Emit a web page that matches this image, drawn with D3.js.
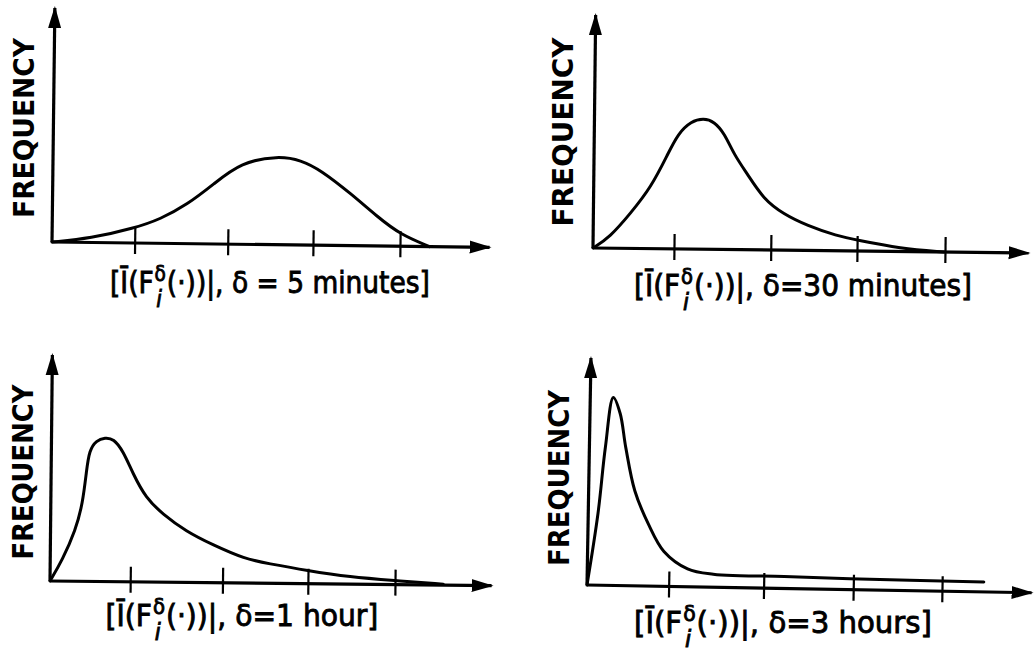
<!DOCTYPE html>
<html>
<head>
<meta charset="utf-8">
<script src="https://cdn.jsdelivr.net/npm/d3@7"></script>
<style>
  html, body { margin: 0; padding: 0; background: #fff; }
  svg { display: block; }
  text { font-family: "DejaVu Sans", "Liberation Sans", sans-serif; fill: #000; }
</style>
</head>
<body>
<div id="chart"></div>
<script>
// page size
var width = 1034, height = 656;

// frequency curves, [x, frequency] (x in tick units, freq 0..100 = arrow tip)
var curve5min = [[0,0],[0.44,1.7],[0.95,6.4],[1.24,10.3],[1.55,16.7],[1.85,25.6],[2.16,35.0],
  [2.59,38.0],[2.85,36.3],[3.08,32.1],[3.43,22.2],[3.74,12.4],[4.0,5.1],[4.34,0]];
var curve30min = [[0,0],[0.19,4.7],[0.42,15.0],[0.65,26.2],[0.84,40.8],[0.95,49.4],[1.10,54.9],
  [1.24,56.2],[1.36,54.9],[1.48,49.8],[1.59,40.8],[1.75,32.2],[1.93,21.9],[2.16,15.5],[2.43,10.7],
  [2.77,6.4],[3.0,4.7],[3.49,1.3],[3.99,0]];
var curve1hour = [[0,0],[0.14,9.3],[0.29,22.6],[0.37,34.5],[0.41,49.1],[0.44,58.0],[0.52,62.4],
  [0.62,63.7],[0.72,63.3],[0.83,58.0],[0.95,47.8],[1.10,37.2],[1.30,30.1],[1.57,22.6],[1.88,16.8],
  [2.26,10.6],[2.52,8.8],[2.98,5.8],[3.48,3.1],[3.98,1.8],[4.56,0.4]];
var curve3hours = [[0,0],[0.11,31.7],[0.18,60.8],[0.26,82.8],[0.34,75.8],[0.41,60.8],[0.52,41.9],
  [0.68,27.3],[0.86,15.4],[1.13,7.9],[1.42,5.7],[1.72,5.3],[2.22,5.3],[2.96,4.8],[4.47,4.4]];

// tick marks on each x axis (no numbers printed)
var ticks5min = [0.95, 2.02, 3.0, 4.0];
var ticks30min = [0.92, 2.02, 3.0, 4.0];
var ticks1hour = [0.93, 2.0, 2.99, 4.0];
var ticks3hours = [0.92, 1.99, 3.0, 4.0];

// label texts
var yTitle = "FREQUENCY";
var deltaTexts = ["δ = 5 minutes]", "δ=30 minutes]", "δ=1 hour]", "δ=3 hours]"];

var curves = [curve5min, curve30min, curve1hour, curve3hours];
var tickSets = [ticks5min, ticks30min, ticks1hour, ticks3hours];

// where each panel sits on the page
var layout = [
  {ox:52,  oy:242, unit:87,    h:234, xEnd:5.03, tilt:0.7,  fx:24,  fy:128, fl:180, lx:270, ly:293, lw:320, smooth:"basis"},
  {ox:593, oy:248, unit:88,    h:233, xEnd:4.95, tilt:0.65, fx:563, fy:132, fl:189, lx:803, ly:296, lw:338, smooth:"basis"},
  {ox:50,  oy:581, unit:86.25, h:226, xEnd:5.12, tilt:0.6,  fx:23,  fy:472, fl:175, lx:242, ly:626, lw:273, smooth:"basis"},
  {ox:587, oy:585, unit:88.75, h:227, xEnd:5.01, tilt:1.0,  fx:559, fy:478, fl:176, lx:783, ly:633, lw:298, smooth:"catmull"}
];

var svg = d3.select("#chart").append("svg")
    .attr("width", width)
    .attr("height", height);

svg.append("rect").attr("width", width).attr("height", height).attr("fill", "#fff");

// filled arrow head
svg.append("defs").append("marker")
    .attr("id", "arrow")
    .attr("markerUnits", "userSpaceOnUse")
    .attr("viewBox", "0 -7 22 14")
    .attr("refX", 20).attr("refY", 0)
    .attr("markerWidth", 22).attr("markerHeight", 14)
    .attr("orient", "auto")
  .append("path")
    .attr("d", "M0,-6.5L22,0L0,6.5Z")
    .attr("fill", "#000");

layout.forEach(function(p, k){
  var x = d3.scaleLinear().domain([0, 4]).range([0, 4 * p.unit]);
  var y = d3.scaleLinear().domain([0, 100]).range([0, -p.h]);

  var g = svg.append("g")
      .attr("transform", "translate(" + p.ox + "," + p.oy + ") rotate(" + p.tilt + ")");

  // axes with arrows
  g.append("line")
      .attr("x1", x(0)).attr("y1", 0).attr("x2", x(p.xEnd)).attr("y2", 0)
      .attr("stroke", "#000").attr("stroke-width", 3.2)
      .attr("marker-end", "url(#arrow)");
  g.append("line")
      .attr("x1", 0).attr("y1", y(0)).attr("x2", 0).attr("y2", y(100))
      .attr("stroke", "#000").attr("stroke-width", 3.2)
      .attr("marker-end", "url(#arrow)");

  // ticks through d3 axis, crossing the line
  var ax = g.append("g")
      .call(d3.axisBottom(x).tickValues(tickSets[k]).tickSize(11).tickFormat(""));
  ax.select(".domain").remove();
  ax.selectAll(".tick line")
      .attr("y1", -15)
      .attr("stroke", "#000")
      .attr("stroke-width", 2.2);

  // curve
  var line = d3.line()
      .x(function(d){ return x(d[0]); })
      .y(function(d){ return y(d[1]); })
      .curve(p.smooth == "basis" ? d3.curveBasis : d3.curveCatmullRom.alpha(0.5));
  g.append("path")
      .datum(curves[k])
      .attr("d", line)
      .attr("fill", "none")
      .attr("stroke", "#000")
      .attr("stroke-width", 3)
      .attr("stroke-linejoin", "round")
      .attr("stroke-linecap", "round");

  // y title
  svg.append("text")
      .attr("transform", "translate(" + (p.fx + 10) + "," + p.fy + ") rotate(-90)")
      .attr("text-anchor", "middle")
      .attr("font-size", 29)
      .attr("font-weight", "bold")
      .attr("textLength", p.fl)
      .attr("lengthAdjust", "spacingAndGlyphs")
      .text(yTitle);

  // x label: [Ī(F δ/i (·))|, δ = ...]
  var lab = svg.append("g")
      .attr("stroke", "#000").attr("stroke-width", 0.9);
  var t1 = lab.append("text").attr("font-size", 30).text("[Ī(F");
  var w1 = t1.node().getComputedTextLength();
  var td = lab.append("text").attr("x", w1 + 1).attr("y", -12)
      .attr("font-size", 21).text("δ");
  var ti = lab.append("text").attr("x", w1 + 3).attr("y", 14)
      .attr("font-size", 23).attr("font-style", "italic")
      .attr("font-family", "DejaVu Serif, serif").text("i");
  var wd = Math.max(td.node().getComputedTextLength(), ti.node().getComputedTextLength() + 2) + 2;
  var t2 = lab.append("text").attr("x", w1 + wd)
      .attr("font-size", 30)
      .text("(·))|, " + deltaTexts[k]);
  var total = w1 + wd + t2.node().getComputedTextLength();
  var s = p.lw / total;
  lab.attr("transform", "translate(" + (p.lx - p.lw / 2) + "," + p.ly + ") scale(" + s + ",1)");
});
</script>
</body>
</html>
